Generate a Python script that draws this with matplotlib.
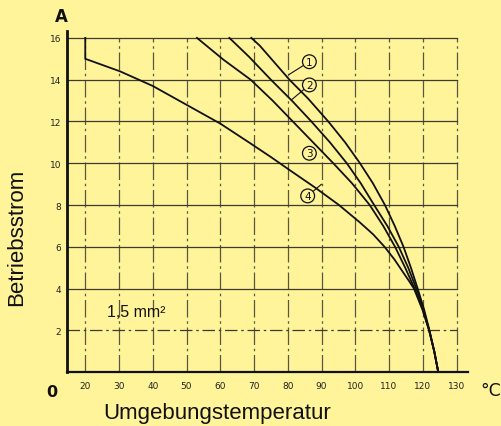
import matplotlib
matplotlib.use("Agg")
import matplotlib.pyplot as plt

# ---- data ----
x_ticks = [20, 30, 40, 50, 60, 70, 80, 90, 100, 110, 120, 130]
y_ticks = [2, 4, 6, 8, 10, 12, 14, 16]

c1_t = [69.2, 71.7, 80.5, 86.0, 92.0, 97.0, 101.4, 105.2, 108.8, 111.7, 114.3, 116.5, 118.5, 120.4, 122.0, 123.4, 124.6]
c1_a = [16.0, 15.63, 14.0, 13.1, 12.0, 11.0, 10.0, 9.05, 8.0, 7.0, 6.0, 5.0, 4.0, 3.0, 2.0, 1.0, 0.0]

c2_t = [62.7, 68.5, 75.0, 81.5, 87.0, 92.5, 97.5, 101.6, 105.6, 109.5, 112.9, 115.7, 118.1, 120.2, 121.9, 123.4, 124.6]
c2_a = [16.0, 15.1, 14.0, 12.95, 12.0, 11.0, 10.0, 9.05, 8.0, 7.0, 6.0, 5.0, 4.0, 3.0, 2.0, 1.0, 0.0]

c3_t = [53.1, 61.0, 69.0, 75.5, 81.5, 87.5, 93.5, 99.0, 104.3, 108.3, 111.8, 114.8, 117.6, 120.0, 121.9, 123.4, 124.6]
c3_a = [16.0, 14.95, 14.0, 13.0, 12.0, 11.0, 10.0, 9.05, 8.0, 7.0, 6.0, 5.0, 4.0, 3.0, 2.0, 1.0, 0.0]

c4_t = [20.0, 20.0, 30.3, 40.0, 50.0, 60.0, 68.5, 75.0, 81.5, 88.0, 95.2, 101.3, 105.3, 108.7, 111.6, 113.9, 115.8, 117.4, 119.9, 121.9, 123.4, 124.6]
c4_a = [16.0, 15.0, 14.4, 13.7, 12.8, 11.9, 11.0, 10.3, 9.57, 8.85, 8.0, 7.18, 6.6, 6.0, 5.4, 4.85, 4.4, 4.0, 3.0, 2.0, 1.0, 0.0]

curves = [("1", c1_t, c1_a), ("2", c2_t, c2_a), ("3", c3_t, c3_a), ("4", c4_t, c4_a)]

BG = "#FFF499"
INK = "#111111"
GRID = "#3c3c30"

W, H = 502, 427
fig = plt.figure(figsize=(W / 100, H / 100), dpi=100, facecolor=BG)
ax = fig.add_axes([66.7 / W, 1 - 373.3 / H, (468 - 66.7) / W, (373.3 - 32) / H])
ax.set_facecolor(BG)
ax.set_xlim(14.5, 133.4)
ax.set_ylim(0, 16.33)

# grid
for yv in y_ticks:
    ls = "-" if yv >= 4 else (0, (10, 3, 2, 3))
    ax.plot([14.5, 130], [yv, yv], color=GRID, lw=0.9, ls=ls, zorder=1)
for xv in x_ticks:
    ax.plot([xv, xv], [0, 16], color=GRID, lw=0.9, ls=(0, (14, 3, 2, 3)), alpha=0.85, zorder=1)

# curves
for name, t, a in curves:
    ax.plot(t, a, color=INK, lw=1.3, zorder=3, solid_joinstyle="round")

# circled labels
lab_kw = dict(fontsize=7.5, ha="center", va="center", color=INK, zorder=4,
              bbox=dict(boxstyle="circle,pad=0.18", fc=BG, ec=INK, lw=0.9))
ax.annotate("1", xy=(80.4, 14.25), xytext=(86.4, 14.86), **lab_kw,
            arrowprops=dict(arrowstyle="-", color=INK, lw=0.8, shrinkA=0, shrinkB=0))
ax.annotate("2", xy=(81.2, 13.05), xytext=(86.4, 13.75), **lab_kw,
            arrowprops=dict(arrowstyle="-", color=INK, lw=0.8, shrinkA=0, shrinkB=0))
ax.annotate("3", xy=(86.4, 10.48), xytext=(86.4, 10.48), **lab_kw)
ax.annotate("4", xy=(90.0, 9.0), xytext=(85.9, 8.44), **lab_kw,
            arrowprops=dict(arrowstyle="-", color=INK, lw=0.8, shrinkA=0, shrinkB=0))

ax.text(35.2, 2.9, "1,5 mm²", fontsize=11.5, family="Liberation Sans",
        ha="center", va="center", color=INK, zorder=4)

# spines / ticks
for s in ("top", "right"):
    ax.spines[s].set_visible(False)
ax.spines["left"].set_linewidth(2.0)
ax.spines["bottom"].set_linewidth(1.6)
ax.spines["left"].set_color(INK)
ax.spines["bottom"].set_color(INK)
ax.set_xticks(x_ticks)
ax.set_xticklabels([str(v) for v in x_ticks])
ax.set_yticks(y_ticks)
ax.set_yticklabels([str(v) for v in y_ticks])
ax.tick_params(axis="both", length=0, labelsize=6.5, colors="#222222")
ax.tick_params(axis="x", pad=6)
ax.tick_params(axis="y", pad=4)

# outer texts
def ftext(px, py, s, **kw):
    fig.text(px / W, 1 - py / H, s, ha="center", va="center", color=INK, **kw)

ftext(61.5, 16.5, "A", fontsize=12, fontweight="bold", family="DejaVu Sans")
ftext(52, 393, "0", fontsize=11.5, fontweight="bold", family="DejaVu Sans")
fig.text(501 / W, 1 - 391 / H, "°C", ha="right", va="center", color=INK,
         fontsize=12.5, family="DejaVu Sans")
ftext(17, 237, "Betriebsstrom", fontsize=16, family="Liberation Sans", rotation=90)
ftext(217, 414, "Umgebungstemperatur", fontsize=16, family="Liberation Sans")

fig.savefig("out.png", dpi=100, facecolor=BG)
